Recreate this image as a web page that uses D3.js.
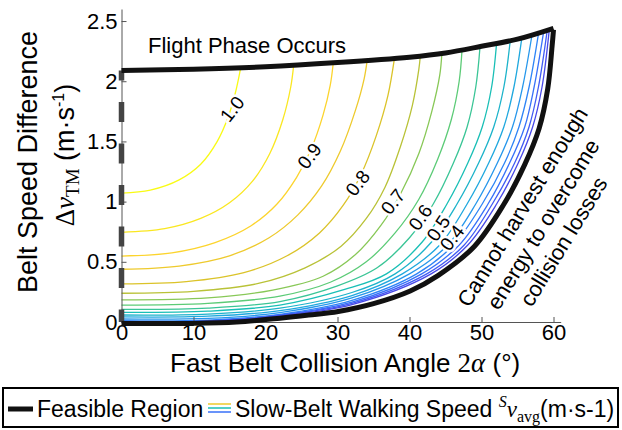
<!DOCTYPE html>
<html>
<head>
<meta charset="utf-8">
<script src="https://cdn.jsdelivr.net/npm/d3@7"></script>
<style>
  body { margin: 0; background: #fff; }
  text { font-family: "Liberation Sans", Arial, sans-serif; fill: #000; }
  .math { font-family: "Liberation Serif", "DejaVu Serif", serif; }
</style>
</head>
<body>
<svg id="chart" width="622" height="430"></svg>
<script>
// contour levels (slow-belt walking speed), highest first
var levels = [1.0, 0.95, 0.9, 0.85, 0.8, 0.75, 0.7, 0.65, 0.6, 0.55, 0.5, 0.45, 0.4, 0.35, 0.3, 0.25, 0.2];

// each contour as [collision angle (deg), belt speed difference (m/s)]
var c100 = [[0,1.07],[4,1.095],[8,1.18],[11,1.31],[13.3,1.5],[14.8,1.7],[15.8,1.9],[16.5,2.095]];
var c095 = [[0,0.745],[6,0.775],[11,0.86],[15,0.99],[18.2,1.17],[20.6,1.4],[22.4,1.68],[23.5,1.95],[23.9,2.125]];
var c090 = [[0,0.548],[7,0.575],[13,0.66],[18,0.8],[21.6,0.98],[24.3,1.2],[26.3,1.43],[28,1.72],[29,1.97],[29.4,2.145]];
var c085 = [[0,0.438],[8,0.465],[15,0.55],[20.5,0.7],[24.5,0.89],[27.8,1.13],[30.4,1.42],[32.5,1.76],[33.7,2.02],[34.1,2.165]];
var c080 = [[0,0.316],[9,0.335],[17,0.41],[23,0.55],[27.5,0.74],[30.8,0.97],[33.3,1.23],[35.4,1.55],[37,1.88],[37.9,2.185]];
var c075 = [[0,0.239],[10,0.255],[19,0.32],[25.5,0.45],[30.5,0.63],[34,0.86],[36.6,1.12],[38.7,1.45],[40.4,1.8],[41.3,2.1],[41.5,2.21]];
var c070 = [[0,0.183],[12,0.2],[21,0.265],[28,0.38],[32.5,0.56],[36,0.8],[38.8,1.07],[41.3,1.4],[43.1,1.75],[44.2,2.05],[44.5,2.235]];
var c065 = [[0,0.141],[12,0.155],[22,0.215],[29,0.33],[34,0.5],[38,0.74],[41.3,1.02],[43.9,1.35],[45.8,1.68],[46.9,2.0],[47.3,2.265]];
var c060 = [[0,0.105],[12,0.115],[22,0.17],[30,0.3],[35.5,0.45],[40,0.7],[43.3,0.98],[46.1,1.32],[48,1.62],[49.2,1.95],[49.8,2.29]];
var c055 = [[0,0.08],[12,0.09],[22,0.14],[31,0.27],[36.8,0.4],[41.7,0.66],[45.2,0.98],[48.1,1.32],[50.1,1.62],[51.4,1.95],[52.1,2.32]];
var c050 = [[0,0.058],[12,0.066],[22,0.115],[32,0.245],[38,0.4],[43,0.66],[46.6,0.98],[49.6,1.32],[51.7,1.62],[53.1,1.95],[54.0,2.34]];
var c045 = [[0,0.042],[12,0.048],[22,0.095],[32,0.22],[39,0.4],[44.2,0.64],[48,0.98],[51,1.32],[53.1,1.62],[54.5,1.95],[55.6,2.36]];
var c040 = [[0,0.025],[12,0.03],[22,0.078],[32,0.2],[40,0.4],[45.3,0.64],[49.2,0.98],[52.2,1.32],[54.3,1.62],[55.7,1.95],[57.0,2.38]];
var c035 = [[0,0.011],[12,0.016],[22,0.064],[32,0.18],[41,0.4],[46.1,0.64],[50.1,0.98],[53.2,1.32],[55.2,1.62],[56.6,1.95],[57.9,2.39]];
var c030 = [[0,0.006],[12,0.01],[22,0.058],[32,0.165],[41.7,0.4],[46.9,0.64],[50.9,0.98],[53.9,1.32],[56,1.62],[57.3,1.95],[58.6,2.40]];
var c025 = [[0,0.003],[12,0.007],[22,0.054],[32,0.155],[42.4,0.4],[47.6,0.64],[51.5,0.98],[54.6,1.32],[56.6,1.62],[57.9,1.95],[59.1,2.41]];
var c020 = [[0,0.002],[12,0.005],[22,0.05],[32,0.145],[43,0.4],[48.1,0.64],[52.1,0.98],[55.1,1.32],[57.1,1.62],[58.4,1.95],[59.4,2.42]];
var contours = [c100, c095, c090, c085, c080, c075, c070, c065, c060, c055, c050, c045, c040, c035, c030, c025, c020];

// feasible region boundary
var topEdge = [[0,2.09],[10,2.10],[20,2.12],[30,2.155],[40,2.20],[45,2.235],[50,2.29],[55,2.35],[60,2.44]];
var bottomEdge = [[0,0],[10,0.001],[16,0.012],[22,0.044],[26,0.07],[30.1,0.10],[35,0.165],[40.1,0.27],[44,0.4],[49,0.64],[53,0.98],[56,1.32],[58,1.62],[59.2,1.95],[59.8,2.3],[60,2.44]];
var leftEdge = [[0,2.09],[0,0]];

// inline contour labels: text, angle, speed difference, rotation
var labelText = ["1.0", "0.9", "0.8", "0.7", "0.6", "0.5", "0.4"];
var labelPos = [[15.35,1.77,-52],[26.1,1.38,-53],[32.8,1.155,-52],[37.7,1.0,-52],[41.5,0.87,-55],[44.0,0.78,-56],[45.9,0.70,-53]];

var xTicks = [0, 10, 20, 30, 40, 50, 60];
var yTicks = [0, 0.5, 1, 1.5, 2, 2.5];
var yTickLabels = ["0", "0.5", "1", "1.5", "2", "2.5"];

// parula-ish colormap
var parulaStops = ["#3e26a8", "#484cf0", "#327bfc", "#20a5e3", "#19bfb6", "#64cd6f", "#d1bf27", "#fccf30", "#f9fb15"];

var svg = d3.select("#chart");

var x = d3.scaleLinear().domain([0, 61]).range([121.5, 560.7]);
var y = d3.scaleLinear().domain([0, 2.6]).range([322, 9]);

var colorScale = d3.scaleLinear()
  .domain(d3.range(parulaStops.length).map(function (i) { return 0.1 + 0.9 * i / (parulaStops.length - 1); }))
  .range(parulaStops)
  .interpolate(d3.interpolateRgb);

var line = d3.line()
  .x(function (d) { return x(d[0]); })
  .y(function (d) { return y(d[1]); })
  .curve(d3.curveCatmullRom.alpha(0.5));

// contours
svg.append("g").selectAll("path")
  .data(contours)
  .enter().append("path")
  .attr("d", line)
  .attr("fill", "none")
  .attr("stroke", function (d, i) { return colorScale(levels[i]); })
  .attr("stroke-width", 1.3);

// contour labels
svg.append("g").selectAll("text")
  .data(labelPos)
  .enter().append("text")
  .attr("transform", function (d) { return "translate(" + x(d[0]) + "," + y(d[1]) + ") rotate(" + d[2] + ")"; })
  .attr("text-anchor", "middle")
  .attr("dy", "0.35em")
  .attr("font-size", 19)
  .attr("stroke", "#fff")
  .attr("stroke-width", 5)
  .attr("paint-order", "stroke")
  .text(function (d, i) { return labelText[i]; });

// axes
var xAxis = d3.axisBottom(x).tickValues(xTicks).tickSizeInner(-5).tickSizeOuter(0).tickPadding(2);
var yAxis = d3.axisLeft(y).tickValues(yTicks).tickSizeInner(-5).tickSizeOuter(0).tickPadding(4)
  .tickFormat(function (d, i) { return yTickLabels[i]; });

var gx = svg.append("g").attr("transform", "translate(0," + y(0) + ")").call(xAxis);
var gy = svg.append("g").attr("transform", "translate(" + x(0) + ",0)").call(yAxis);
[gx, gy].forEach(function (g) {
  g.select(".domain").attr("stroke", "#555");
  g.selectAll(".tick line").attr("stroke", "#555");
  g.selectAll(".tick text").attr("font-size", 22).attr("font-family", "Liberation Sans, Arial, sans-serif").attr("fill", "#000");
});

// feasible region boundary
svg.append("path").datum(leftEdge)
  .attr("d", d3.line().x(function (d) { return x(d[0]); }).y(function (d) { return y(d[1]); }))
  .attr("fill", "none").attr("stroke", "#444").attr("stroke-width", 5.5)
  .attr("stroke-dasharray", "20,21.5").attr("stroke-dashoffset", 10);

svg.append("path").datum(topEdge)
  .attr("d", line).attr("fill", "none").attr("stroke", "#111").attr("stroke-width", 5)
  .attr("stroke-linejoin", "round");
svg.append("path").datum(bottomEdge)
  .attr("d", d3.line().x(function (d) { return x(d[0]); }).y(function (d) { return y(d[1]) + 1.5; }).curve(d3.curveCatmullRom.alpha(0.5)))
  .attr("fill", "none").attr("stroke", "#111").attr("stroke-width", 5)
  .attr("stroke-linejoin", "round");

// region annotations
svg.append("text").attr("x", 148).attr("y", 53).attr("font-size", 22).text("Flight Phase Occurs");

var note = svg.append("text")
  .attr("transform", "translate(529,211) rotate(-58.5)")
  .attr("text-anchor", "middle")
  .attr("font-size", 22);
["Cannot harvest enough", "energy to overcome", "collision losses"].forEach(function (s, i) {
  note.append("tspan").attr("x", i * -4).attr("dy", i === 0 ? 0 : 26.5).text(s);
});

// axis titles
var xt = svg.append("text").attr("x", 170).attr("y", 372).attr("font-size", 26);
xt.append("tspan").text("Fast Belt Collision Angle ");
xt.append("tspan").attr("class", "math").attr("font-size", 27).text("2");
xt.append("tspan").attr("class", "math").attr("font-size", 27).attr("font-style", "italic").text("α");
xt.append("tspan").text(" (°)");

svg.append("text")
  .attr("transform", "translate(37,162) rotate(-90)")
  .attr("text-anchor", "middle")
  .attr("font-size", 27)
  .text("Belt Speed Difference");

var yt = svg.append("text")
  .attr("transform", "translate(74,155) rotate(-90)")
  .attr("text-anchor", "middle")
  .attr("font-size", 27);
yt.append("tspan").attr("class", "math").text("Δ");
yt.append("tspan").attr("class", "math").attr("font-style", "italic").text("v");
yt.append("tspan").attr("class", "math").attr("font-size", 19).attr("dy", 5).text("TM");
yt.append("tspan").attr("dy", -5).text("  (m·s");
yt.append("tspan").attr("font-size", 16).attr("dy", -10).text("-1");
yt.append("tspan").attr("dy", 10).text(")");

// legend
var lg = svg.append("g");
lg.append("rect").attr("x", 3).attr("y", 388).attr("width", 615).attr("height", 39)
  .attr("fill", "#fff").attr("stroke", "#000").attr("stroke-width", 2);
lg.append("line").attr("x1", 8).attr("x2", 33).attr("y1", 409).attr("y2", 409)
  .attr("stroke", "#111").attr("stroke-width", 5);
lg.append("text").attr("x", 37).attr("y", 417).attr("font-size", 23).text("Feasible Region");
var legendColors = [colorScale(0.85), colorScale(0.55), colorScale(0.3)];
lg.selectAll("line.sw").data(legendColors).enter().append("line")
  .attr("class", "sw")
  .attr("x1", 208).attr("x2", 231)
  .attr("y1", function (d, i) { return 404 + i * 4; })
  .attr("y2", function (d, i) { return 404 + i * 4; })
  .attr("stroke", function (d) { return d; }).attr("stroke-width", 1.5);
var lt = lg.append("text").attr("x", 235).attr("y", 417).attr("font-size", 23);
lt.append("tspan").text("Slow-Belt Walking Speed ");
lt.append("tspan").attr("class", "math").attr("font-style", "italic").attr("font-size", 16).attr("dy", -10).text("S");
lt.append("tspan").attr("class", "math").attr("font-style", "italic").attr("dy", 10).text("v");
lt.append("tspan").attr("class", "math").attr("font-size", 16).attr("dy", 5).text("avg");
lt.append("tspan").attr("dy", -5).text("(m·s-1)");
</script>
</body>
</html>
